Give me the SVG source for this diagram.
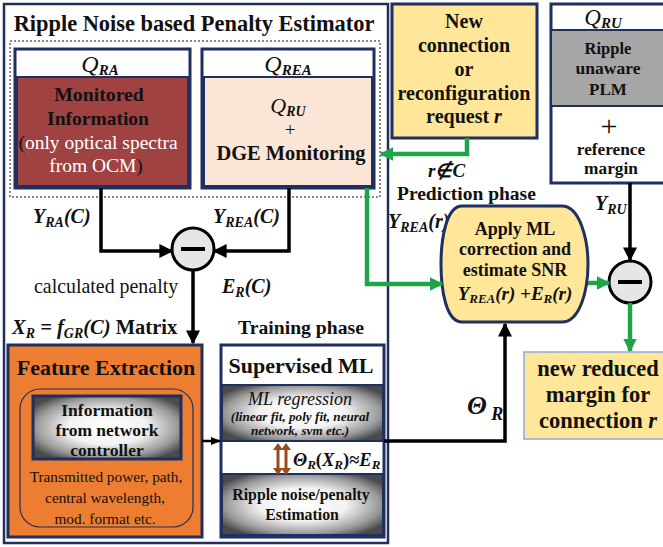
<svg xmlns="http://www.w3.org/2000/svg" width="663" height="547" viewBox="0 0 663 547" font-family="'Liberation Serif', serif">
<defs>
<style>
text{font-family:'Liberation Serif',serif;fill:#111}
.b{font-weight:bold}
.bi{font-weight:bold;font-style:italic}
.i{font-style:italic}
.c{text-anchor:middle}
.blk{stroke:#000;stroke-width:3.5;fill:none}
.grn{stroke:#1FA44A;stroke-width:4.5;fill:none}
</style>
<radialGradient id="gr" cx="0.5" cy="0.5" r="0.6">
<stop offset="0" stop-color="#ffffff"/>
<stop offset="0.45" stop-color="#f2f2f2"/>
<stop offset="0.8" stop-color="#9a9a9a"/>
<stop offset="1" stop-color="#4a4a4a"/>
</radialGradient>
<marker id="ab" viewBox="0 0 10 10" refX="9" refY="5" markerWidth="4" markerHeight="4" orient="auto" markerUnits="strokeWidth"><path d="M0,0 L10,5 L0,10 Z" fill="#000"/></marker>
<marker id="ag" viewBox="0 0 10 10" refX="9" refY="5" markerWidth="3" markerHeight="3" orient="auto" markerUnits="strokeWidth"><path d="M0,0 L10,5 L0,10 Z" fill="#1FA44A"/></marker>
<marker id="abs" viewBox="0 0 10 10" refX="9" refY="5" markerWidth="4" markerHeight="4" orient="auto" markerUnits="strokeWidth"><path d="M0,1 L10,5 L0,9 Z" fill="#000"/></marker>
</defs>
<rect width="663" height="547" fill="#fff"/>

<g id="estimator">
<rect x="4" y="4" width="384" height="539" fill="none" stroke="#1F2F5F" stroke-width="2.5"/>
<text x="194" y="31" class="b c" font-size="22.4">Ripple Noise based Penalty Estimator</text>
<rect x="10" y="41" width="370" height="156" fill="none" stroke="#888" stroke-width="2" stroke-dasharray="2 2"/>
</g>

<g id="qra">
<rect x="15" y="49" width="175" height="139" fill="#fff" stroke="#1F2F5F" stroke-width="3"/>
<rect x="17" y="77" width="171" height="109" fill="#A14242" stroke="#1F2F5F" stroke-width="2"/>
<text x="100" y="72" class="i c" font-size="24">Q<tspan class="bi" font-size="15" dy="3">RA</tspan></text>
<text x="99" y="101" class="b c" font-size="19.8">Monitored</text>
<text x="98" y="125" class="b c" font-size="19.5">Information</text>
<text x="98" y="149" class="c" font-size="19.5"><tspan fill="#111">(</tspan><tspan fill="#fff">only optical spectra</tspan></text>
<text x="96" y="172" class="c" font-size="19.5"><tspan fill="#fff">from OCM</tspan><tspan fill="#111">)</tspan></text>
</g>

<g id="qrea">
<rect x="202" y="49" width="172" height="139" fill="#fff" stroke="#1F2F5F" stroke-width="3"/>
<rect x="204" y="77" width="168" height="109" fill="#FBE5D6" stroke="#1F2F5F" stroke-width="2"/>
<text x="288" y="72" class="i c" font-size="24">Q<tspan class="bi" font-size="15" dy="3">REA</tspan></text>
<text x="288" y="113" class="i c" font-size="22">Q<tspan class="bi" font-size="14" dy="3">RU</tspan></text>
<text x="290" y="136" class="c" font-size="19">+</text>
<text x="291" y="160" class="b c" font-size="20.4">DGE Monitoring</text>
</g>

<g id="request">
<rect x="392" y="4" width="145" height="134" fill="#FFE699" stroke="#1F2F5F" stroke-width="3"/>
<text x="464" y="28" class="b c" font-size="20">New</text>
<text x="464" y="52" class="b c" font-size="20">connection</text>
<text x="464" y="76" class="b c" font-size="20">or</text>
<text x="464" y="100" class="b c" font-size="20">reconfiguration</text>
<text x="464" y="123" class="b c" font-size="20">request <tspan class="bi">r</tspan></text>
</g>

<g id="qru">
<rect x="551" y="4" width="114" height="179" fill="#fff" stroke="#1F2F5F" stroke-width="3"/>
<rect x="551" y="30" width="114" height="76" fill="#A6A6A6" stroke="#1F2F5F" stroke-width="2"/>
<text x="603" y="25" class="i c" font-size="23">Q<tspan class="bi" font-size="15" dy="3">RU</tspan></text>
<text x="608" y="54" class="b c" font-size="16.5">Ripple</text>
<text x="608" y="74" class="b c" font-size="17.5">unaware</text>
<text x="608" y="95" class="b c" font-size="17">PLM</text>
<text x="609" y="136" class="c" font-size="30">+</text>
<text x="611" y="155" class="b c" font-size="17.3">reference</text>
<text x="611" y="174" class="b c" font-size="17.3">margin</text>
</g>

<g id="labels">
<text x="428" y="177" class="bi" font-size="19">r∉C</text>
<text x="397" y="200" class="b" font-size="19.5">Prediction  phase</text>
<text x="388" y="228" class="bi" font-size="20">Y<tspan font-size="14" dy="4">REA</tspan><tspan dy="-4">(r)</tspan></text>
<text x="595" y="210" class="bi" font-size="20">Y<tspan font-size="14" dy="4">RU</tspan></text>
<text x="33" y="223" class="bi" font-size="20">Y<tspan font-size="14" dy="4">RA</tspan><tspan dy="-4">(C)</tspan></text>
<text x="213" y="223" class="bi" font-size="20">Y<tspan font-size="14" dy="4">REA</tspan><tspan dy="-4">(C)</tspan></text>
<text x="34" y="293" font-size="19.9">calculated penalty</text>
<text x="222" y="293" class="bi" font-size="20">E<tspan font-size="14" dy="4">R</tspan><tspan dy="-4">(C)</tspan></text>
<text x="12" y="334" class="bi" font-size="20.5">X<tspan font-size="14" dy="4">R</tspan><tspan dy="-4"> = f</tspan><tspan font-size="14" dy="4">GR</tspan><tspan dy="-4">(C) </tspan><tspan font-style="normal">Matrix</tspan></text>
<text x="238" y="334" class="b" font-size="19.7">Training phase</text>
<text x="467" y="414" class="bi" font-size="26">Θ<tspan font-size="18" dy="6"> R</tspan></text>
</g>

<g id="apply">
<path d="M462 206 L562 206 C580 206 588 240 588 264 C588 290 580 322 562 322 L462 322 C446 322 441 290 441 264 C441 240 446 206 462 206 Z" fill="#FFE699" stroke="#1F2F5F" stroke-width="3"/>
<text x="515" y="235" class="b c" font-size="18">Apply ML</text>
<text x="515" y="255" class="b c" font-size="18">correction and</text>
<text x="515" y="276" class="b c" font-size="18">estimate SNR</text>
<text x="515" y="300" class="bi c" font-size="19">Y<tspan font-size="13" dy="3">REA</tspan><tspan dy="-3">(r) +E</tspan><tspan font-size="13" dy="3">R</tspan><tspan dy="-3">(r)</tspan></text>
</g>

<g id="minus1">
<circle cx="193" cy="249" r="21" fill="#E6E6E6" stroke="#000" stroke-width="3"/>
<rect x="181" y="247" width="24" height="4" fill="#000"/>
</g>

<g id="minus2">
<circle cx="630" cy="282" r="21" fill="#E6E6E6" stroke="#000" stroke-width="3"/>
<rect x="618" y="280" width="24" height="4" fill="#000"/>
</g>

<g id="margin">
<rect x="524" y="352" width="140" height="87" fill="#FFE699" stroke="#8FAADC" stroke-width="1.5"/>
<text x="598" y="376" class="b c" font-size="22.5">new reduced</text>
<text x="598" y="402" class="b c" font-size="22.5">margin for</text>
<text x="598" y="428" class="b c" font-size="22.5">connection <tspan class="bi">r</tspan></text>
</g>

<g id="feature">
<rect x="8" y="345" width="194" height="192" fill="#ED7D31" stroke="#1F2F5F" stroke-width="3"/>
<text x="106" y="375" class="b c" font-size="22">Feature Extraction</text>
<rect x="20" y="389" width="173" height="138" rx="20" fill="none" stroke="#1F2F5F" stroke-width="1.2"/>
<rect x="33" y="396" width="148" height="63" fill="url(#gr)" stroke="#1F2F5F" stroke-width="3"/>
<text x="107" y="416" class="b c" font-size="17.5">Information</text>
<text x="107" y="436" class="b c" font-size="17.5">from network</text>
<text x="107" y="456" class="b c" font-size="17.5">controller</text>
<text x="106" y="482" class="c" font-size="15.3">Transmitted power, path,</text>
<text x="105" y="503" class="c" font-size="15.3">central wavelength,</text>
<text x="105" y="524" class="c" font-size="15.3">mod. format etc.</text>
</g>

<g id="supervised">
<rect x="221" y="345" width="163" height="192" fill="#fff" stroke="#1F2F5F" stroke-width="3"/>
<text x="301" y="373" class="b c" font-size="22">Supervised ML</text>
<rect x="222" y="385" width="161" height="56" fill="url(#gr)" stroke="#1F2F5F" stroke-width="2"/>
<text x="300" y="405" class="i c" font-size="18">ML regression</text>
<text x="300" y="421" class="bi c" font-size="13.2">(linear fit, poly fit, neural</text>
<text x="300" y="435" class="bi c" font-size="13.2">network, svm etc.)</text>
<rect x="222" y="474" width="161" height="61" fill="url(#gr)" stroke="#1F2F5F" stroke-width="2"/>
<text x="301" y="500" class="b c" font-size="15.8">Ripple noise/penalty</text>
<text x="302" y="520" class="b c" font-size="15.8">Estimation</text>
<text x="293" y="466" class="bi" font-size="18.5">Θ<tspan font-size="13" dy="3">R</tspan><tspan dy="-3" font-style="normal">(</tspan>X<tspan font-size="13" dy="3">R</tspan><tspan dy="-3" font-style="normal">)≈</tspan>E<tspan font-size="13" dy="3">R</tspan></text>
<g fill="#9C4A1A">
<rect x="276.5" y="449" width="3" height="20"/>
<rect x="284.5" y="449" width="3" height="20"/>
<path d="M273 450 L278 443 L283 450 Z M281 450 L286 443 L291 450 Z M273 468 L278 475 L283 468 Z M281 468 L286 475 L291 468 Z"/>
</g>
</g>

<g id="connectors">
<polyline points="101,188 101,251 172,251" class="blk" marker-end="url(#ab)"/>
<polyline points="289,188 289,251 214,251" class="blk" marker-end="url(#ab)"/>
<line x1="193" y1="270" x2="193" y2="343" class="blk" marker-end="url(#ab)"/>
<line x1="630" y1="183" x2="630" y2="260" class="blk" marker-end="url(#ab)"/>
<polyline points="384,441 505,441 505,324" class="blk" marker-end="url(#ab)"/>
<line x1="202" y1="441" x2="220" y2="441" stroke="#000" stroke-width="2.5" marker-end="url(#abs)"/>
<polyline points="467,138 467,154 381,154" class="grn" marker-end="url(#ag)"/>
<polyline points="367,188 367,284 442,284" class="grn" marker-end="url(#ag)"/>
<line x1="588" y1="283" x2="609" y2="283" class="grn" marker-end="url(#ag)"/>
<line x1="630" y1="303" x2="630" y2="351" class="grn" marker-end="url(#ag)"/>
</g>
</svg>
